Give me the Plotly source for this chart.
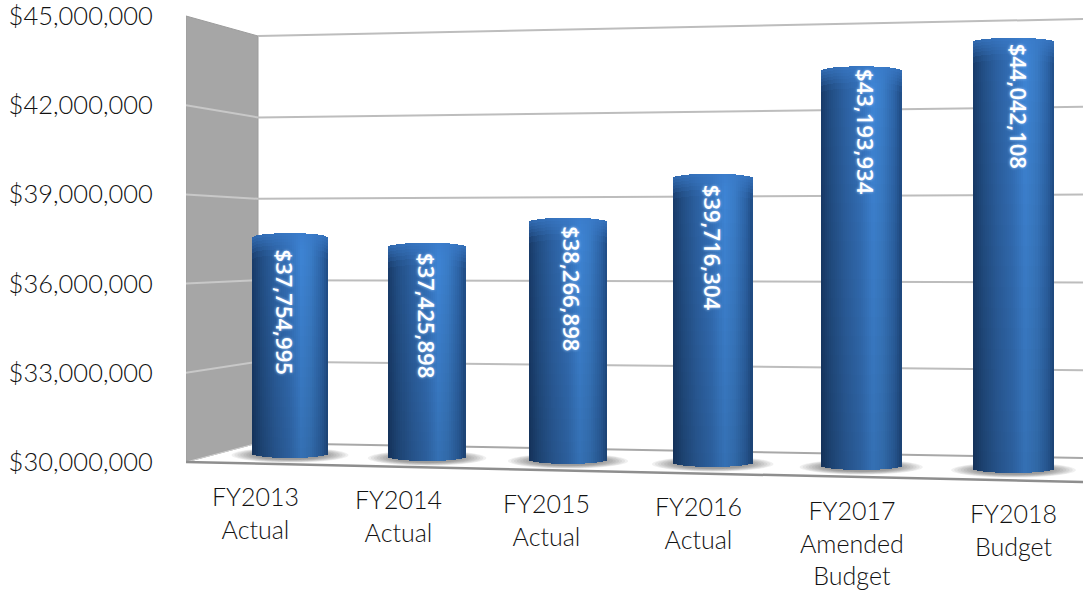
import plotly.graph_objects as go

# ---- data ----
categories = ["FY2013<br>Actual", "FY2014<br>Actual", "FY2015<br>Actual",
              "FY2016<br>Actual", "FY2017<br>Amended<br>Budget", "FY2018<br>Budget"]
values = [37754995, 37425898, 38266898, 39716304, 43193934, 44042108]
axis_ticks = [30000000, 33000000, 36000000, 39000000, 42000000, 45000000]

# ---- layout constants (pixel model of the perspective view) ----
W, H = 1083, 592
AX_L, AX_BOTTOM_PX, AX_TOP_PX = 186, 462, 16
AXMIN, AXMAX = axis_ticks[0], axis_ticks[-1]
FONT = "Lato"


def val(py):
    """pixel row -> value on the dollar axis"""
    return AXMIN + (AX_BOTTOM_PX - py) / (AX_BOTTOM_PX - AX_TOP_PX) * (AXMAX - AXMIN)


def center(i):
    return 290 + 135.2 * i + 1.9 * i * i


def bar_base_px(i):
    return 458 + 3 * i


def bar_top_px(i, v):
    return bar_base_px(i) - (v - AXMIN) / 1e6 * (29.0 + 0.4 * i)


def lerp(a, b, t):
    return a + (b - a) * t


def back_left(k):
    return 443 - 81.4 * k


def back_right(k):
    return 458 - 87.8 * k


PROFILE = [(-1.0, (24, 58, 104)), (-0.75, (34, 78, 132)), (-0.4, (44, 96, 160)),
           (0.0, (52, 112, 184)), (0.3, (62, 132, 212)), (0.55, (58, 124, 198)),
           (0.85, (44, 98, 164)), (1.0, (32, 76, 132))]
TOP_TINT = (58, 122, 200)


def shade(t, f, d):
    """t: across the cylinder, f: fraction down it, d: pixels below the top"""
    for (t0, c0), (t1, c1) in zip(PROFILE, PROFILE[1:]):
        if t <= t1:
            u = (t - t0) / (t1 - t0)
            rgb = [lerp(a, b, u) for a, b in zip(c0, c1)]
            break
    k = lerp(1.02, 0.85, f)
    rgb = [c * k for c in rgb]
    w = max(0.0, 1 - d / 22) * 0.75
    rgb = [lerp(c, g, w) for c, g in zip(rgb, TOP_TINT)]
    return "rgb(%d,%d,%d)" % tuple(min(255, int(c)) for c in rgb)


# ---- cylinders, built from strips through the bar trace ----
xs, ws, bases, hs, cols = [], [], [], [], []
SEG = 20
ELL = 4.5
TOP_STEPS = [0, 3, 6, 9, 12, 16, 22]
for i, v in enumerate(values):
    cx = center(i)
    bw = 76 + i
    top = bar_top_px(i, v)
    bot = bar_base_px(i)
    n = bw // 2
    for s in range(n):
        t = -1 + (2 * s + 1) / n
        dome = ELL * (1 - t * t) ** 0.5
        y0 = bot + dome - ELL
        y1 = top - dome + ELL
        span = y0 - y1
        edges = [y1 + d for d in TOP_STEPS]
        edges += [edges[-1] + (y0 - edges[-1]) * (j + 1) / SEG for j in range(SEG)]
        for a, b in zip(edges, edges[1:]):
            xs.append(cx + t * bw / 2)
            ws.append(bw / n + 0.6)
            # each segment runs on below its edge; the next one is drawn over the overlap
            bases.append(val(b + 2 if b < y0 - 0.01 else b))
            hs.append(val(a) - bases[-1])
            cols.append(shade(t, ((a + b) / 2 - y1) / span, (a + b) / 2 - y1))

fig = go.Figure()
fig.add_trace(go.Bar(x=xs, y=hs, base=bases, width=ws,
                     marker=dict(color=cols, line=dict(width=0)),
                     hoverinfo="skip", showlegend=False))

# ---- background shapes ----
shapes = []
wall = "M %g %g L 258 %g L 258 %g L %g %g Z" % (AX_L, val(16), val(36), val(443), AX_L, val(462))
shapes.append(dict(type="path", path=wall, xref="x", yref="y", layer="below",
                   fillcolor="#a6a6a6", line=dict(color="#9c9c9c", width=1)))
for k, tick in enumerate(axis_ticks):
    if 0 < k < 5:
        shapes.append(dict(type="line", xref="x", yref="y", layer="below",
                           x0=AX_L, x1=258, y0=tick, y1=val(back_left(k)),
                           line=dict(color="#c8c8c8", width=2)))
    if k > 0:
        shapes.append(dict(type="line", xref="x", yref="y", layer="below",
                           x0=258, x1=W, y0=val(back_left(k)), y1=val(back_right(k)),
                           line=dict(color="#bdbdbd", width=2)))
# floor edges
shapes.append(dict(type="line", xref="x", yref="y", layer="below", x0=258, x1=W,
                   y0=val(back_left(0)), y1=val(back_right(0)),
                   line=dict(color="#a8a8a8", width=2)))
shapes.append(dict(type="line", xref="x", yref="y", layer="below", x0=AX_L, x1=258,
                   y0=val(462), y1=val(443), line=dict(color="#d0d0d0", width=1)))
shapes.append(dict(type="line", xref="x", yref="y", layer="below", x0=AX_L, x1=W,
                   y0=val(462), y1=val(482), line=dict(color="#8e8e8e", width=2.5)))
# soft floor shadows
for i in range(len(values)):
    cx = center(i)
    bw = 76 + i
    bot = bar_base_px(i)
    for g in range(9):
        grow = 1.0 - g * 0.05
        rx = bw * 0.77 * grow
        ry = 7.5 * grow
        cy = bot - 3
        shapes.append(dict(type="circle", xref="x", yref="y", layer="below",
                           x0=cx - rx, x1=cx + rx, y0=val(cy + ry), y1=val(cy - ry),
                           fillcolor="#505050", opacity=0.085, line=dict(width=0)))

# ---- text ----
annotations = []
CAT_X = [255, 398, 546, 698, 852, 1013]
CAT_TOP = [479, 482, 486, 489, 493, 496]
for c, x, y in zip(categories, CAT_X, CAT_TOP):
    annotations.append(dict(text=c, x=x, y=val(y), xref="x", yref="y", xanchor="center",
                            yanchor="top", showarrow=False, align="center",
                            font=dict(family=FONT, size=25, color="#111111", weight=300)))
LABEL_DX = [-5, 0, 4, 1, 5, 5]
LABEL_DY = [14, 8, 6, 9, 1, 4]
for i, v in enumerate(values):
    annotations.append(dict(text="${:,}".format(v), textangle=90,
                            x=center(i) + LABEL_DX[i], y=val(bar_top_px(i, v) + LABEL_DY[i]),
                            xref="x", yref="y", xanchor="center", yanchor="top", showarrow=False,
                            font=dict(family="Open Sans", size=22, color="#ffffff",
                                      weight=600, shadow="0 0 3px #a8d0ff")))

fig.update_layout(
    width=W, height=H, margin=dict(l=AX_L, r=0, t=0, b=0),
    paper_bgcolor="#ffffff", plot_bgcolor="#ffffff", barmode="overlay", bargap=0,
    showlegend=False, shapes=shapes, annotations=annotations,
    xaxis=dict(range=[AX_L, W], visible=False, fixedrange=True),
    yaxis=dict(range=[val(H), val(0)], tickvals=axis_ticks,
               ticktext=["${:,}".format(t) for t in axis_ticks],
               showgrid=False, zeroline=False, showline=False, ticks="outside",
               ticklen=27, tickcolor="rgba(0,0,0,0)", ticklabeloverflow="allow",
               tickfont=dict(family=FONT, size=25.5, color="#111111", weight=300),
               fixedrange=True),
)
fig.write_html("out.html", config={"displayModeBar": False},
               post_script="document.body.style.margin='0';")
